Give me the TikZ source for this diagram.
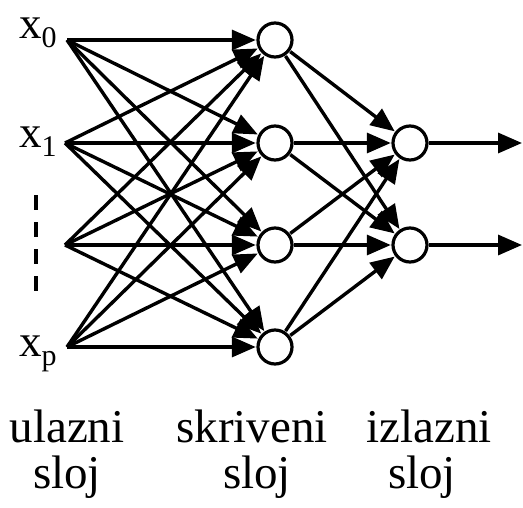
\documentclass[tikz,border=0pt]{standalone}
\usepackage{fontspec}
\setmainfont{Liberation Serif}
\usetikzlibrary{arrows.meta}
\tikzset{
  inpt/.style={coordinate},
  conn/.style={line width=3.4pt, -{Triangle[length=24pt,width=20pt]}, shorten >=0pt},
  lbl/.style={anchor=base, inner sep=0pt, font=\fontsize{47}{47}\selectfont},
  xlbl/.style={anchor=base west, inner sep=0pt, font=\fontsize{45}{45}\selectfont},
  neuronring/.style={line width=3.2pt, fill=white}
}
\newcommand{\xsub}[1]{x\raisebox{-9pt}{\fontsize{30}{30}\selectfont #1}}
\begin{document}
\begin{tikzpicture}[x=1pt,y=-1pt]
\useasboundingbox (0,0) rectangle (523,507);
% inputs
\coordinate (i0) at (67,40);
\coordinate (i1) at (65,143);
\coordinate (i2) at (65,245);
\coordinate (i3) at (67,347);
% hidden
\node[circle, minimum size=38pt, inner sep=0pt] (h0) at (275,40) {};
\node[circle, minimum size=38pt, inner sep=0pt] (h1) at (275,143) {};
\node[circle, minimum size=38pt, inner sep=0pt] (h2) at (275,245) {};
\node[circle, minimum size=38pt, inner sep=0pt] (h3) at (275,347) {};
% outputs
\node[circle, minimum size=38pt, inner sep=0pt] (o0) at (410,143) {};
\node[circle, minimum size=38pt, inner sep=0pt] (o1) at (410,245) {};
\coordinate (e0) at (522,143);
\coordinate (e1) at (522,245);
% input labels
\node[xlbl] (l0) at (19,38) {\xsub{0}};
\node[xlbl] (l1) at (19,147) {\xsub{1}};
\node[xlbl] (l3) at (19,356) {\xsub{p}};
\draw[line width=3.6pt, dash pattern=on 15pt off 12pt] (36,195) -- (36,292);
% connections input -> hidden
\foreach \i in {0,...,3}{
  \foreach \h in {0,...,3}{
    \draw[conn] (i\i) -- (h\h);
  }
}
% hidden -> output
\foreach \h in {0,...,3}{
  \foreach \o in {0,1}{
    \draw[conn] (h\h) -- (o\o);
  }
}
\draw[conn] (o0) -- (e0);
\draw[conn] (o1) -- (e1);
% neurons on top
\foreach \n in {h0,h1,h2,h3,o0,o1}{
  \draw[neuronring] (\n.center) circle (17pt);
}
% layer labels
\node[lbl] (t1) at (67,442) {ulazni};
\node[lbl] (t2) at (67,488) {sloj};
\node[lbl] (t3) at (252,442) {skriveni};
\node[lbl] (t4) at (257,488) {sloj};
\node[lbl] (t5) at (429,442) {izlazni};
\node[lbl] (t6) at (422,488) {sloj};
\end{tikzpicture}
\end{document}
